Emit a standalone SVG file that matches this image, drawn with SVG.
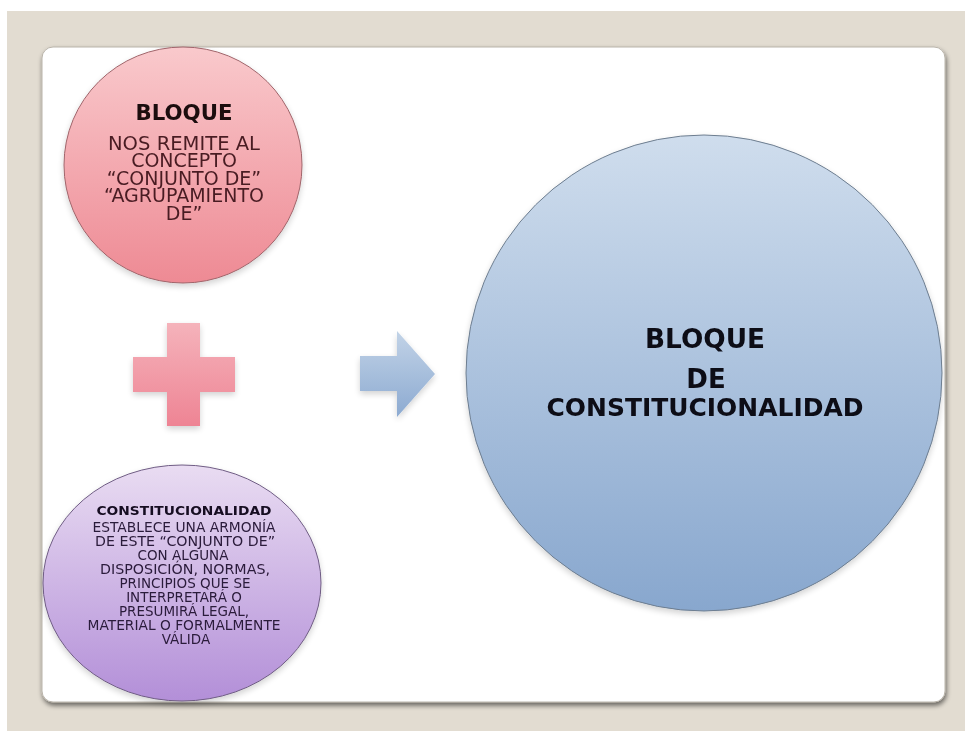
<svg xmlns="http://www.w3.org/2000/svg" width="965" height="731" viewBox="0 0 965 731">
  <defs>
    <linearGradient id="gPink" x1="0" y1="0" x2="0" y2="1">
      <stop offset="0" stop-color="#f9c9cc"/>
      <stop offset="1" stop-color="#ee8a94"/>
    </linearGradient>
    <linearGradient id="gPurple" x1="0" y1="0" x2="0" y2="1">
      <stop offset="0" stop-color="#e9dcf2"/>
      <stop offset="1" stop-color="#b38fd8"/>
    </linearGradient>
    <linearGradient id="gBlue" x1="0" y1="0" x2="0" y2="1">
      <stop offset="0" stop-color="#cfdded"/>
      <stop offset="1" stop-color="#88a7ce"/>
    </linearGradient>
    <linearGradient id="gPlus" x1="0" y1="0" x2="0" y2="1">
      <stop offset="0" stop-color="#f5b3bb"/>
      <stop offset="1" stop-color="#ee8494"/>
    </linearGradient>
    <linearGradient id="gArrow" x1="0" y1="0" x2="0" y2="1">
      <stop offset="0" stop-color="#c2d3e7"/>
      <stop offset="1" stop-color="#8caad1"/>
    </linearGradient>
    <filter id="panelShadow" x="-5%" y="-5%" width="110%" height="112%">
      <feGaussianBlur in="SourceAlpha" stdDeviation="2.5"/>
      <feOffset dx="1" dy="3" result="b"/>
      <feComponentTransfer><feFuncA type="linear" slope="0.55"/></feComponentTransfer>
      <feMerge><feMergeNode/><feMergeNode in="SourceGraphic"/></feMerge>
    </filter>
    <filter id="soft" x="-10%" y="-10%" width="120%" height="125%">
      <feGaussianBlur in="SourceAlpha" stdDeviation="3"/>
      <feOffset dx="0" dy="3"/>
      <feComponentTransfer><feFuncA type="linear" slope="0.18"/></feComponentTransfer>
      <feMerge><feMergeNode/><feMergeNode in="SourceGraphic"/></feMerge>
    </filter>
  </defs>
  <style>
    .t { font-family: "DejaVu Sans", Verdana, sans-serif; text-anchor: middle; }
    .b { font-weight: bold; }
    .pinkTxt { fill: #4a1d24; font-size: 19px; }
    .purTxt { fill: #2a1a3a; font-size: 13.5px; }
    .blueTxt { fill: #0d0d18; }
  </style>

  <!-- background -->
  <rect x="0" y="0" width="965" height="731" fill="#ffffff"/>
  <rect x="7" y="11" width="958" height="720" fill="#e2dcd1"/>
  <rect x="42" y="47" width="903" height="655" rx="11" ry="11" fill="#ffffff" stroke="#b9b4aa" stroke-width="1" filter="url(#panelShadow)"/>

  <!-- nodes -->
  <g id="node-bloque" filter="url(#soft)">
    <ellipse cx="183" cy="165" rx="119" ry="118" fill="url(#gPink)" stroke="#a0646a" stroke-width="1"/>
    <text class="t b" x="184" y="120" font-size="21" fill="#1a0c10" textLength="97" lengthAdjust="spacingAndGlyphs">BLOQUE</text>
    <text class="t pinkTxt" x="184" y="150" textLength="152" lengthAdjust="spacingAndGlyphs">NOS REMITE AL</text>
    <text class="t pinkTxt" x="184" y="167">CONCEPTO</text>
    <text class="t pinkTxt" x="184" y="185">“CONJUNTO DE”</text>
    <text class="t pinkTxt" x="184" y="202">“AGRUPAMIENTO</text>
    <text class="t pinkTxt" x="184" y="220">DE”</text>
  </g>

  <g id="node-constitucionalidad" filter="url(#soft)">
    <ellipse cx="182" cy="583" rx="139" ry="118" fill="url(#gPurple)" stroke="#6f5c84" stroke-width="1"/>
    <text class="t b" x="184" y="515" font-size="12.5" fill="#150c20" textLength="175" lengthAdjust="spacingAndGlyphs">CONSTITUCIONALIDAD</text>
    <text class="t purTxt" x="184" y="532" textLength="183" lengthAdjust="spacingAndGlyphs">ESTABLECE UNA ARMONÍA</text>
    <text class="t purTxt" x="185" y="546" textLength="180" lengthAdjust="spacingAndGlyphs">DE ESTE “CONJUNTO DE”</text>
    <text class="t purTxt" x="183" y="560">CON ALGUNA</text>
    <text class="t purTxt" x="185" y="574" textLength="170" lengthAdjust="spacingAndGlyphs">DISPOSICIÓN, NORMAS,</text>
    <text class="t purTxt" x="185" y="588">PRINCIPIOS QUE SE</text>
    <text class="t purTxt" x="184" y="602">INTERPRETARÁ O</text>
    <text class="t purTxt" x="184" y="616">PRESUMIRÁ LEGAL,</text>
    <text class="t purTxt" x="184" y="630" textLength="193" lengthAdjust="spacingAndGlyphs">MATERIAL O FORMALMENTE</text>
    <text class="t purTxt" x="186" y="644">VÁLIDA</text>
  </g>

  <g id="node-bloque-de-constitucionalidad" filter="url(#soft)">
    <circle cx="704" cy="373" r="238" fill="url(#gBlue)" stroke="#6d7d8f" stroke-width="1"/>
    <text class="t b blueTxt" x="705" y="348" font-size="26" textLength="120" lengthAdjust="spacingAndGlyphs">BLOQUE</text>
    <text class="t b blueTxt" x="706" y="388" font-size="26">DE</text>
    <text class="t b blueTxt" x="705" y="416" font-size="25" textLength="317" lengthAdjust="spacingAndGlyphs">CONSTITUCIONALIDAD</text>
  </g>

  <!-- connectors -->
  <g id="connectors" filter="url(#soft)">
    <path id="plus" d="M167,323 H200 V357 H235 V392 H200 V426 H167 V392 H133 V357 H167 Z" fill="url(#gPlus)"/>
    <path id="arrow" d="M360,356 H397 V331 L435,374 L397,417 V391 H360 Z" fill="url(#gArrow)"/>
  </g>
</svg>
